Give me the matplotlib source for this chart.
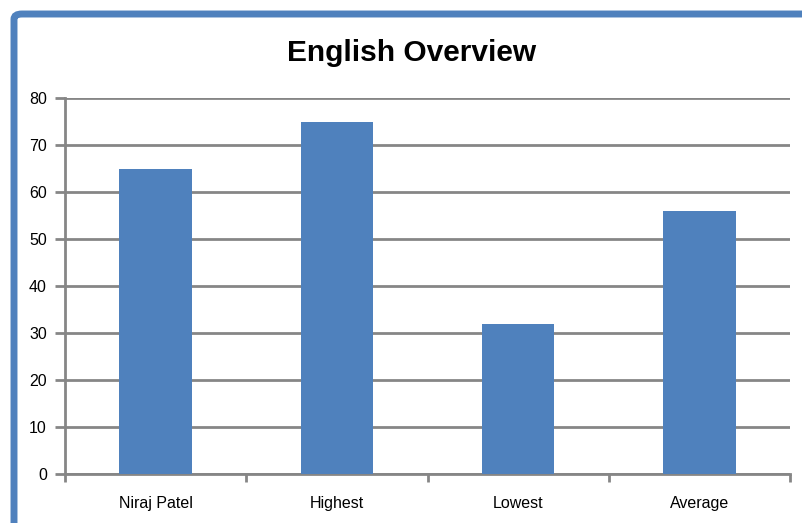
import matplotlib.pyplot as plt
import numpy as np
from matplotlib.patches import FancyBboxPatch

categories = ['Niraj Patel', 'Highest', 'Lowest', 'Average']
scores = [65, 75, 32, 56]
y_ticks = [0, 10, 20, 30, 40, 50, 60, 70, 80]

plt.rcParams['font.family'] = ['Liberation Sans', 'DejaVu Sans']

fig = plt.figure(figsize=(8.02, 5.23), dpi=100)
ax = fig.add_axes([65 / 802, 1 - 474 / 523, 725 / 802, 376 / 523])

grey = '#868686'
x = np.arange(len(categories))
ax.bar(x, scores, width=0.4, color='#4F81BD', zorder=3)
ax.set_xlim(-0.5, len(categories) - 0.5)
ax.set_ylim(0, 80)
ax.set_yticks(y_ticks)
ax.yaxis.grid(True, color=grey, linewidth=2, zorder=0)

ax.set_xticks(np.arange(-0.5, len(categories), 1.0))
ax.set_xticklabels([])
ax.set_xticks(x, minor=True)
ax.set_xticklabels(categories, minor=True)
ax.tick_params(axis='x', which='minor', length=0, labelsize=11.5, pad=16)
ax.tick_params(axis='x', which='major', length=6, width=2, color=grey)
ax.tick_params(axis='y', length=7, width=2, color=grey, labelsize=11.5, pad=6)

for s in ['top', 'right']:
    ax.spines[s].set_visible(False)
for s in ['left', 'bottom']:
    ax.spines[s].set_color(grey)
    ax.spines[s].set_linewidth(2)

frame = FancyBboxPatch((14 / 802, -0.1), 1.2, 1.1 - 14 / 523,
                       boxstyle='round,pad=0,rounding_size=0.01',
                       transform=fig.transFigure, fill=False,
                       edgecolor='#4F81BD', linewidth=5)
fig.patches.append(frame)

fig.text(412 / 802, 1 - 53 / 523, 'English Overview', ha='center', va='center',
         fontsize=21.5, fontweight='bold')

fig.savefig('out.png', dpi=100)
